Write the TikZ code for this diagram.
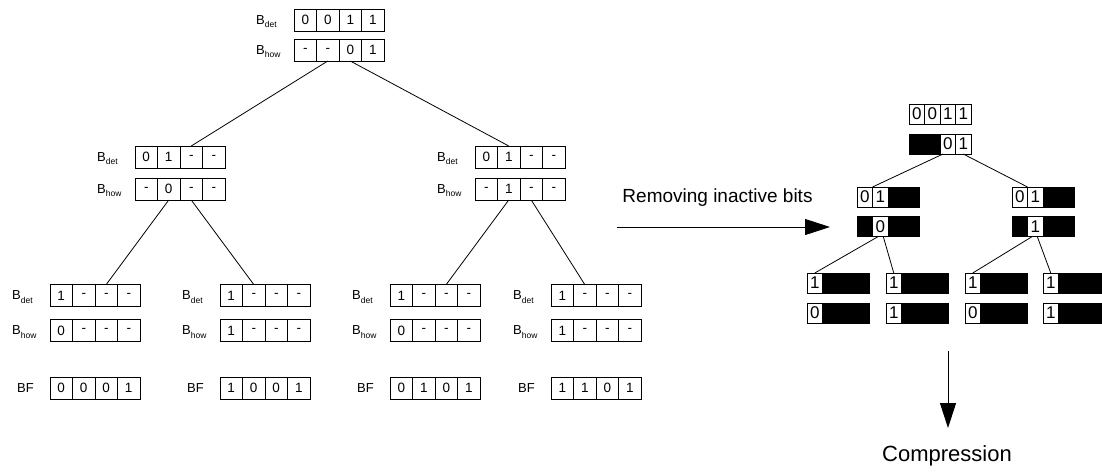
\documentclass[tikz,border=0pt]{standalone}
\usepackage{fontspec}
\setmainfont{Liberation Sans}
\usetikzlibrary{positioning,arrows.meta}

%% Small lowered index after a register name.
\newcommand{\lowIdx}[1]{\raisebox{-3.5pt}[0pt][0pt]{\fontsize{8.5}{8.5}\selectfont #1}}
%% One register: name, left-centre coordinate, cell style, bits (x = removed bit).
\newcommand{\bitRow}[4]{%
  \foreach \b [count=\i] in {#4}{%
    \pgfmathtruncatemacro{\j}{\i-1}%
    \if x\b \def\cellFill{black}\def\cellText{}\else \def\cellFill{none}\let\cellText\b\fi
    \ifnum\i=1
      \node[#3,fill=\cellFill,anchor=west] (#1-\i) at (#2) {\cellText};
    \else
      \node[#3,fill=\cellFill,right=0pt of #1-\j] (#1-\i) {\cellText};
    \fi
  }%
}

\begin{document}
\begin{tikzpicture}[x=1pt,y=-1pt,%%
  cellStyle/.style={draw,line width=0.9pt,inner sep=0pt,outer sep=0pt,minimum width=22.5pt,minimum height=22pt,font=\fontsize{13.5}{13.5}\selectfont},%%
  maskStyle/.style={draw,line width=0.9pt,inner sep=0pt,outer sep=0pt,minimum width=15.5pt,minimum height=20pt,font=\fontsize{17}{17}\selectfont},%%
  labelStyle/.style={inner sep=0pt,anchor=west,font=\fontsize{13}{13}\selectfont},%%
  lineStyle/.style={-,line width=0.8pt},%%
  arrowStyle/.style={-{Triangle[length=25pt,width=16pt]},line width=0.9pt},%%
  textStyle/.style={inner sep=0pt,anchor=base}%%
]
\useasboundingbox (0,0) rectangle (1102,475);
%%
%%
\pgfmathsetmacro{\leafDet}{295.5}
\pgfmathsetmacro{\leafHow}{330.5}
\pgfmathsetmacro{\leafBF}{388}
%%
\coordinate (RootDet) at (294,20);
\coordinate (RootHow) at (294,50);
\coordinate (LeftDet) at (135,157);
\coordinate (LeftHow) at (135,189);
\coordinate (RightDet) at (475,157);
\coordinate (RightHow) at (475,189);
\coordinate (LeafADet) at (50,\leafDet);
\coordinate (LeafAHow) at (50,\leafHow);
\coordinate (LeafABF) at (50,\leafBF);
\coordinate (LeafBDet) at (220,\leafDet);
\coordinate (LeafBHow) at (220,\leafHow);
\coordinate (LeafBBF) at (220,\leafBF);
\coordinate (LeafCDet) at (390,\leafDet);
\coordinate (LeafCHow) at (390,\leafHow);
\coordinate (LeafCBF) at (390,\leafBF);
\coordinate (LeafDDet) at (551,\leafDet);
\coordinate (LeafDHow) at (551,\leafHow);
\coordinate (LeafDBF) at (551,\leafBF);
%%
%%
%% Draw the full tree.
%% Registers of the full tree.
\bitRow{RD}{RootDet}{cellStyle}{0,0,1,1}
\bitRow{RH}{RootHow}{cellStyle}{-,-,0,1}
\bitRow{LD}{LeftDet}{cellStyle}{0,1,-,-}
\bitRow{LH}{LeftHow}{cellStyle}{-,0,-,-}
\bitRow{RtD}{RightDet}{cellStyle}{0,1,-,-}
\bitRow{RtH}{RightHow}{cellStyle}{-,1,-,-}
\bitRow{AD}{LeafADet}{cellStyle}{1,-,-,-}
\bitRow{AH}{LeafAHow}{cellStyle}{0,-,-,-}
\bitRow{AF}{LeafABF}{cellStyle}{0,0,0,1}
\bitRow{BD}{LeafBDet}{cellStyle}{1,-,-,-}
\bitRow{BH}{LeafBHow}{cellStyle}{1,-,-,-}
\bitRow{BF}{LeafBBF}{cellStyle}{1,0,0,1}
\bitRow{CD}{LeafCDet}{cellStyle}{1,-,-,-}
\bitRow{CH}{LeafCHow}{cellStyle}{0,-,-,-}
\bitRow{CF}{LeafCBF}{cellStyle}{0,1,0,1}
\bitRow{DD}{LeafDDet}{cellStyle}{1,-,-,-}
\bitRow{DH}{LeafDHow}{cellStyle}{1,-,-,-}
\bitRow{DF}{LeafDBF}{cellStyle}{1,1,0,1}
%% Names in front of the registers.
\foreach \n in {RD,LD,RtD,AD,BD,CD,DD}
  \node[labelStyle] (\n Lbl) at ([xshift=-38pt]\n-1.west) {B\lowIdx{det}};
\foreach \n in {RH,LH,RtH,AH,BH,CH,DH}
  \node[labelStyle] (\n Lbl) at ([xshift=-38pt]\n-1.west) {B\lowIdx{how}};
\foreach \n in {AF,BF,CF,DF}
  \node[labelStyle] (\n Lbl) at ([xshift=-33pt]\n-1.west) {BF};
%% Lines between the registers.
\draw[lineStyle] (RH-2.south) edge (LD-3.north);
\draw[lineStyle] (RH-3.south) edge (RtD-2.north);
\draw[lineStyle] (LH-2.south) edge (AD-3.north);
\draw[lineStyle] (LH-3.south) edge (BD-2.north);
\draw[lineStyle] (RtH-2.south) edge (CD-3.north);
\draw[lineStyle] (RtH-3.south) edge (DD-2.north);
%%
%%
%% Draw the reduced tree.
\bitRow{MRD}{909,114}{maskStyle}{0,0,1,1}
\bitRow{MRH}{909,144}{maskStyle}{x,x,0,1}
\bitRow{MLD}{857,197}{maskStyle}{0,1,x,x}
\bitRow{MLH}{857,226.5}{maskStyle}{x,0,x,x}
\bitRow{MRtD}{1012,197}{maskStyle}{0,1,x,x}
\bitRow{MRtH}{1012,226.5}{maskStyle}{x,1,x,x}
\bitRow{MAD}{807,283}{maskStyle}{1,x,x,x}
\bitRow{MAH}{807,313}{maskStyle}{0,x,x,x}
\bitRow{MBD}{886,283}{maskStyle}{1,x,x,x}
\bitRow{MBH}{886,313}{maskStyle}{1,x,x,x}
\bitRow{MCD}{965,283}{maskStyle}{1,x,x,x}
\bitRow{MCH}{965,313}{maskStyle}{0,x,x,x}
\bitRow{MDD}{1043,283}{maskStyle}{1,x,x,x}
\bitRow{MDH}{1043,313}{maskStyle}{1,x,x,x}
%% Lines between the registers.
\draw[lineStyle] ([xshift=3pt]MRH-3.south west) edge (MLD-2.north west);
\draw[lineStyle] (MRH-4.south) edge (MRtD-2.north west);
\draw[lineStyle] ([xshift=-2pt]MLH-2.south) edge (MAD-1.north);
\draw[lineStyle] ([xshift=3pt]MLH-2.south) edge (MBD-1.north);
\draw[lineStyle] ([xshift=-3pt]MRtH-2.south) edge (MCD-1.north);
\draw[lineStyle] ([xshift=2pt]MRtH-2.south) edge (MDD-1.north);
%%
%%
%% Steps between the pictures.
\coordinate (RemoveStart) at (617,227);
\coordinate (RemoveEnd) at (830,227);
\coordinate (CompStart) at (948,351);
\coordinate (CompEnd) at (948,428);
\draw[arrowStyle] (RemoveStart) -- (RemoveEnd);
\draw[arrowStyle] (CompStart) -- (CompEnd);
\node[textStyle,font=\fontsize{19}{19}\selectfont] (RemoveLbl) at (717.5,202) {Removing inactive bits};
\node[textStyle,font=\fontsize{22}{22}\selectfont] (CompLbl) at (947,461.5) {Compression};
\end{tikzpicture}
\end{document}
